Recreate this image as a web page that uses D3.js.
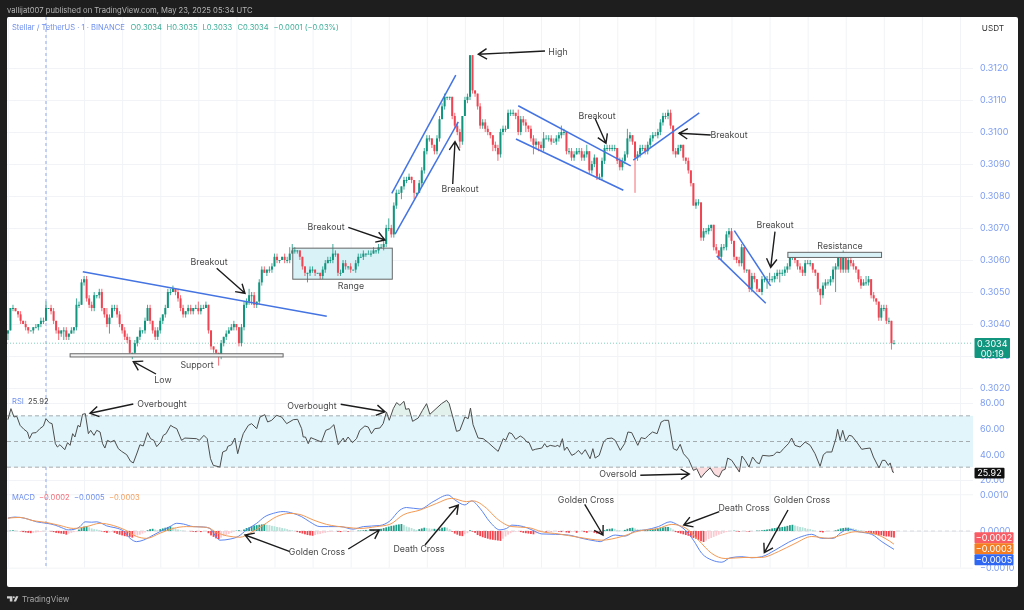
<!DOCTYPE html>
<html>
<head>
<meta charset="utf-8">
<script src="https://cdn.jsdelivr.net/npm/d3@7"></script>
<style>
    html, body { margin: 0; padding: 0; background: #1e1e1e; }
    /* the source picture is a soft upscaled screenshot */
    svg { display: block; filter: blur(0.35px); }
    text { font-family: Inter, "Noto Sans", sans-serif; }
    .domain { display: none; }
    .grid line { stroke: #f1f3f6; stroke-width: 1; }
    .scale_axis text { fill: #7c9cf2; font-size: 9px; }
    .note { fill: #4a4a4a; font-size: 8.8px; text-anchor: middle; }
    .tag { fill: #ffffff; font-size: 9px; text-anchor: middle; }
</style>
</head>
<body>
<svg id="chart" width="1024" height="610"></svg>
<script>
// one candle per minute, first one at 23:45. close in USDT
var closes = [
    0.3038,0.3045,0.3045,0.3044,0.3043,0.3041,0.3040,0.3039,0.3038,0.3038,
    0.3039,0.3039,0.3040,0.3041,0.3041,0.3045,0.3045,0.3044,0.3041,0.3038,
    0.3037,0.3038,0.3038,0.3036,0.3037,0.3038,0.3039,0.3046,0.3046,0.3053,
    0.3054,0.3048,0.3046,0.3045,0.3049,0.3049,0.3050,0.3045,0.3043,0.3040,
    0.3042,0.3045,0.3045,0.3043,0.3040,0.3038,0.3036,0.3035,0.3031,0.3031,
    0.3034,0.3036,0.3038,0.3038,0.3041,0.3045,0.3041,0.3038,0.3036,0.3038,
    0.3041,0.3043,0.3045,0.3050,0.3050,0.3051,0.3050,0.3048,0.3045,0.3043,
    0.3044,0.3045,0.3044,0.3045,0.3045,0.3044,0.3045,0.3045,0.3046,0.3038,
    0.3033,0.3032,0.3031,0.3030,0.3034,0.3036,0.3037,0.3038,0.3039,0.3040,
    0.3039,0.3034,0.3039,0.3046,0.3047,0.3049,0.3049,0.3046,0.3047,0.3053,
    0.3057,0.3056,0.3057,0.3057,0.3058,0.3061,0.3060,0.3060,0.3061,0.3060,
    0.3060,0.3062,0.3063,0.3063,0.3063,0.3061,0.3058,0.3056,0.3056,0.3057,
    0.3057,0.3056,0.3056,0.3055,0.3057,0.3059,0.3060,0.3060,0.3062,0.3062,
    0.3056,0.3056,0.3059,0.3058,0.3058,0.3057,0.3057,0.3059,0.3061,0.3061,
    0.3062,0.3062,0.3062,0.3062,0.3063,0.3063,0.3064,0.3064,0.3065,0.3070,
    0.3070,0.3068,0.3077,0.3081,0.3081,0.3083,0.3085,0.3085,0.3086,0.3085,
    0.3081,0.3081,0.3084,0.3088,0.3094,0.3098,0.3098,0.3096,0.3094,0.3098,
    0.3104,0.3108,0.3111,0.3111,0.3111,0.3105,0.3102,0.3100,0.3097,0.3105,
    0.3110,0.3111,0.3124,0.3113,0.3112,0.3108,0.3102,0.3103,0.3101,0.3100,
    0.3099,0.3096,0.3095,0.3093,0.3100,0.3101,0.3101,0.3106,0.3106,0.3106,
    0.3105,0.3100,0.3104,0.3103,0.3102,0.3101,0.3098,0.3096,0.3097,0.3096,
    0.3095,0.3098,0.3098,0.3098,0.3097,0.3097,0.3098,0.3099,0.3100,0.3100,
    0.3094,0.3094,0.3092,0.3093,0.3094,0.3094,0.3092,0.3093,0.3094,0.3088,
    0.3090,0.3092,0.3086,0.3086,0.3091,0.3095,0.3095,0.3095,0.3095,0.3095,
    0.3091,0.3089,0.3091,0.3093,0.3098,0.3099,0.3097,0.3092,0.3093,0.3095,
    0.3095,0.3094,0.3096,0.3098,0.3099,0.3099,0.3100,0.3103,0.3105,0.3105,
    0.3106,0.3102,0.3094,0.3093,0.3095,0.3096,0.3092,0.3091,0.3088,0.3084,
    0.3077,0.3078,0.3078,0.3067,0.3069,0.3069,0.3070,0.3071,0.3064,0.3063,
    0.3061,0.3064,0.3064,0.3068,0.3069,0.3066,0.3061,0.3060,0.3059,0.3064,
    0.3057,0.3057,0.3051,0.3055,0.3054,0.3051,0.3050,0.3054,0.3054,0.3054,
    0.3054,0.3054,0.3055,0.3056,0.3056,0.3056,0.3057,0.3058,0.3061,0.3061,
    0.3060,0.3058,0.3057,0.3056,0.3059,0.3059,0.3059,0.3057,0.3056,0.3051,
    0.3049,0.3052,0.3053,0.3053,0.3054,0.3057,0.3058,0.3061,0.3057,0.3062,
    0.3057,0.3060,0.3059,0.3058,0.3057,0.3054,0.3052,0.3053,0.3053,0.3054,
    0.3049,0.3048,0.3047,0.3042,0.3045,0.3045,0.3041,0.3041,0.3034,0.3034
];

// wick length above and below the body, in 0.0001 steps
var upper_wicks = [
    0,0,1,0,0,1,0,1,0,0, 0,1,0,1,1,2,0,1,1,0, 1,0,1,1,0,1,0,2,1,1, 1,1,1,1,1,0,1,1,0,2,
    1,1,1,1,1,0,1,1,1,0, 1,0,1,0,1,1,1,0,1,1, 1,0,1,1,1,1,0,1,1,1, 0,1,1,0,1,2,1,1,1,0,
    0,0,0,0,1,0,1,1,1,1, 0,0,1,1,1,2,1,1,0,1, 1,1,0,1,1,1,1,0,0,1, 1,2,2,1,0,0,0,0,0,1,
    1,0,0,0,1,1,1,1,3,1, 0,1,1,1,0,1,0,1,1,1, 1,0,1,1,1,0,1,1,1,1, 3,1,1,1,1,0,1,1,1,0,
    0,0,1,1,1,1,1,0,0,1, 1,1,1,0,0,0,1,1,1,0, 1,1,0,0,0,0,1,1,1,1, 0,0,1,1,1,1,1,1,1,1,
    0,2,1,1,1,0,1,1,1,0, 1,2,1,1,1,1,1,1,2,1, 0,1,1,1,1,1,1,1,2,0, 1,1,0,1,1,1,1,1,1,1,
    0,1,1,1,3,1,0,0,1,1, 1,1,1,1,1,1,1,1,1,1, 1,1,0,1,1,0,0,0,1,0, 0,1,1,0,1,1,1,0,0,1,
    0,1,1,1,1,1,0,0,1,1, 0,0,0,1,1,0,0,1,1,1, 2,1,1,1,1,1,1,1,1,0, 0,0,1,1,1,1,1,0,0,0,
    0,1,1,1,1,1,1,1,1,1, 0,1,1,1,0,0,1,1,2,1, 0,1,0,0,1,1,1,1,0,1
];
var lower_wicks = [
    2,0,1,0,1,1,0,1,1,0, 1,0,1,1,1,0,0,1,1,1, 2,1,3,1,1,0,1,1,1,0, 1,1,1,1,1,1,1,1,1,1,
    3,0,1,1,1,1,1,1,1,2, 1,1,1,1,1,0,1,1,1,1, 1,1,1,0,1,0,1,1,1,1, 1,1,1,1,0,1,1,0,0,1,
    1,1,1,3,1,1,1,0,0,1, 1,1,1,1,1,1,3,1,1,1, 1,0,1,1,1,0,1,1,0,1, 1,1,0,1,1,1,1,1,3,1,
    1,1,0,1,1,1,0,1,1,1, 1,1,0,1,1,1,0,1,1,0, 1,1,0,1,0,1,1,0,1,1, 1,1,1,1,0,2,1,1,0,1,
    2,1,0,1,1,1,1,1,1,1, 1,0,1,1,1,1,1,1,2,1, 0,1,1,1,1,1,1,1,1,1, 1,2,1,2,1,1,1,0,1,1,
    1,1,1,1,2,1,1,3,1,2, 1,1,0,1,1,0,1,1,1,1, 1,1,1,1,0,1,1,1,1,1, 1,1,1,1,1,1,1,1,1,1,
    1,1,1,1,1,1,1,11,1,1, 1,1,1,1,1,0,1,1,1,1, 1,1,1,1,0,1,1,1,1,1, 0,1,1,1,1,1,1,1,1,1,
    1,1,1,1,1,1,1,1,1,1, 1,1,1,1,1,1,0,1,1,3, 1,1,1,1,3,1,1,1,1,1, 1,1,1,1,1,0,1,1,1,1,
    3,1,1,1,1,1,7,1,1,1, 1,1,1,1,1,1,1,0,1,1, 1,1,1,1,1,1,1,1,2,0
];

// RSI line, read vertex by vertex (candle number, value)
var rsi_bars = [
    0,1.2,2.4,3.5,4.8,6.3,7.7,8.5,9.6,11.1,12.6,14,15,16.3,17.4,18.7,19.5,20.5,22.4,23.5,24.5,25.5,26.4,27.6,28.4,29.4,30.5,31.7,32.6,33.9,
    35,36.3,37.3,38.2,39.2,40.5,41.9,43.5,44.8,46.8,48.3,49.4,51,52,53.3,55,56.2,57.5,58.6,60.2,61.2,62.3,64.1,65.1,66.5,68.4,69.7,74.3,75.4,77.2,
    78.5,79.8,80.9,83.5,84.6,86.1,86.6,88.1,89.4,90.5,91.7,92.7,94.7,96,98,99.3,101.2,102.3,103.9,105.8,107.8,109.8,112.4,114.1,115.7,116.3,117.2,118.3,119.3,120.9,
    123.5,125.2,126.8,128.4,130.1,132.1,132.7,134,135.7,137.3,138.6,140.6,141.9,143.2,144.5,146.5,147.8,149.1,150.2,151.8,153.1,154.4,156,156.7,158,159.4,161.6,163.3,164.9,166.2,
    170.8,172.8,173.8,175.4,176.7,178,180,181.3,182.2,183.2,185.2,187.2,189.2,191.1,193.1,195.1,196.1,197.4,198.5,200,201.8,203.1,204.4,205.3,206.6,207.7,210.3,211.4,212.3,213.6,
    215.6,216.6,217.3,218.4,219.2,220.2,222.1,223.4,224.7,226,227.4,229.3,230.4,231.3,232.9,234.6,235.9,237.9,239.2,241.2,242.9,244.2,245.7,248.1,249.4,251,252.3,253.9,255.7,257.3,
    258.6,260.2,262.1,263.5,264.8,266.1,268.1,270,271.3,273,274.6,276.6,278.3,280.1,281.4,282.5,283.5,285.1,288.1,289.1,290.4,291.9,293.3,295,296,297.2,299.8,301.5,302.8,304.1,
    305.5,307.4,308.7,310,312,314,316,317.9,319.9,321.2,322.5,324.5,326.1,326.8,327.8,328.8,330,331.3,332.4,334.3,336.3,337.6,339.6,340.9,343.1,344.4,345.5,346.8,347.5,348.5,349
];
var rsi_values = [
    67,75.6,69.1,69.6,62.6,59.5,57.4,52.2,56.6,56.9,60,62.1,67.8,64.7,63.9,48.3,45.7,47.5,43.6,49.1,47,56.1,53.5,62.6,61.3,71.2,71.7,56.1,58.7,54.8,
    58.7,57.4,48.3,44.9,50.9,49.6,50.9,44.4,42.3,39.7,34.6,33.3,41.8,47.5,46.5,56.9,52.2,50.9,46,49.6,54.8,56.1,62.6,61.3,60,50.9,52.7,52.2,50.9,54.8,
    52.2,36.6,31.4,30.1,41.8,43.1,46.2,47.5,52.7,40.5,49.6,56.1,62.6,63.9,60,69.1,70.9,65.2,66.5,70.4,69.1,63.9,67,67.3,60,53.5,53.5,48.3,53,51.7,
    49.6,58.7,60,63.1,47.5,52.7,49.6,53.5,49.1,52.2,58.7,62.1,61.3,56.1,60,60.5,63.9,73,66.5,75.6,80.3,78.2,81.3,75.1,75.6,65.7,68.3,74.3,79.5,71.2,
    79.5,82.1,79.5,67.8,57.9,58.7,69.1,67.8,76.1,63.1,52.7,52.2,49.1,45.7,42.3,52.2,50.9,56.9,56.1,51.7,54.3,52.7,49.6,49.1,43.1,43.9,44.9,48.3,45.7,47,
    46.2,47,45.7,52.2,43.1,45.7,39.2,40.5,43.1,40,43.6,36.6,44.4,37.1,39.2,49.6,52.2,52.7,50.9,43.1,48.3,57.4,56.9,47,53,52.2,54.8,57.4,56.1,65.2,
    66.5,66.5,44.4,43.1,47.8,40.5,36.1,27.5,28.8,21.8,25.7,29.4,24.2,22.3,27.5,28.3,37.1,35.3,26.2,38.7,35.3,30.1,37.9,33.5,32.7,39.2,38.7,39.2,41.8,41.3,
    44.4,48.3,52.7,47,45.7,49.6,47,40.5,30.7,39.7,41.8,41.8,52.2,59.5,50.9,58.7,50.1,54.8,54.3,49.6,43.9,44.4,44.9,37.9,29.4,35.3,35.3,31.4,33.3,26.2,25.92
];

// MACD and signal lines, vertices in 0.0001 units
var macd_bars = [
    0,2.8,4.8,8.1,11.3,15.3,18.6,21.2,23.8,26.4,28.4,30.4,33,35,36.9,38.9,42.2,45.5,48.1,50.7,53.3,57.3,61.2,63.8,66.5,69.1,73,77,79.6,81.5,
    83.5,87.5,90.7,94,98,101.2,104.5,108.4,112.4,115.7,118.9,122.9,126.2,130.8,136,140,146.5,150.4,154.4,157,162.3,167.5,173.4,176,180,182.6,185.9,189.8,193.8,196.4,
    198.5,203.1,206.4,210.3,215.6,220.8,226.1,231.3,233.3,235.9,239.2,243.1,247.1,251,256.2,260.8,263.5,266.7,270,273.3,277.2,281.2,284.5,289.1,293,296.9,302.2,307.4,312.7,316.6,
    320.5,325.1,327.8,331.1,335,340.2,344.2,349
];
var macd_values = [
    3.5,3.8,3.7,3.2,2.5,2.1,1.6,0.9,0.3,0.5,1.2,2.5,2.4,2.5,2.1,1.4,0.9,0,-2,-2.9,-2.5,-1.1,0.3,1.2,2.1,1.9,1.2,1.1,0.7,-1.1,
    -2.5,-2.2,-1.5,0.3,2.1,3.9,4.8,5.3,4.8,3.9,2.5,1.2,1.2,1.2,0.5,1.2,1.5,2.7,5.7,6.4,6,8,9.8,8.5,7.1,8.2,6.2,2.5,0.3,0.7,
    1.6,1.2,0.3,-0.8,-0.9,-1.1,-2,-2.7,-2.9,-2,-1.1,-1.4,0,0.3,1.2,2.5,1.8,0.3,-2.5,-6.1,-7.9,-8.5,-7.3,-7,-7.3,-7,-5.2,-3.1,-1.5,-0.9,
    -2,-2,-0.6,0.5,-0.2,-0.9,-2.9,-5
];
var signal_bars = [
    0,4.8,10,15.3,20.5,25.8,31,36.3,41.5,46.1,50.7,54.6,59.9,65.1,70.4,78.3,82.2,86.1,91.4,95.3,100.6,105.8,111.1,115,120.3,125.5,133.4,138.6,145.2,150.4,
    155.7,162.3,168.8,174.7,180.6,183.2,188.5,192.4,198.5,205.1,210.3,216.9,224.7,233.9,241.8,248.4,256.2,261.5,266.7,272,277.2,282.5,290.4,296.9,303.5,310,316.6,323.2,328.4,333.7,
    340.2,345.5,349
];
var signal_values = [
    3.5,3.7,2.8,2.3,1.5,0.7,1.2,2.1,1.5,0.3,-1.5,-2,-0.6,0.7,1.2,1,-0.4,-1.3,-1.7,-0.6,1.6,3.9,4.8,4.5,3,1.8,1,0.7,1.2,1.8,
    4.4,5.7,7.5,8.9,8,8.2,6.2,3.5,1.2,0.9,-0.2,-0.8,-1.7,-2.5,-1.5,0,0.7,1.8,0.9,-2.5,-6.1,-7.5,-7.2,-7.2,-5.6,-3.4,-1.5,-2,-1.1,-0.2,
    -0.6,-2,-3.6
];

// histogram, one bar per candle, 0.0001 units
var hist_values = [
    0,0.1,0.2,0.1,0,-0.1,-0.3,-0.4,-0.5,-0.6, -0.5,-0.4,-0.3,-0.2,-0.1,0,0,-0.1,-0.3,-0.5,
    -0.6,-0.7,-0.8,-1,-0.7,-0.5,-0.3,-0.1,0.4,0.8, 1.2,1.3,1,0.7,0.5,0.4,0.2,-0.1,-0.3,-0.5,
    -0.4,-0.2,-0.5,-0.8,-1,-1.2,-1.4,-1.5,-1.6,-1.8, -1.5,-1.2,-1,-0.7,-0.4,0.2,0.5,0.6,0.4,0.2,
    0.5,0.7,0.9,1.1,1.3,1,0.7,0.4,0.2,0.1, 0,0,-0.1,-0.2,-0.3,-0.2,-0.3,-0.2,-0.1,-0.6,
    -1.2,-1.6,-2,-2.2,-1.8,-1.4,-1.1,-0.8,-0.5,-0.2, 0.1,0.2,0.1,0.4,0.8,1,1.3,1.5,1.6,1.7,
    1.8,1.9,1.7,1.6,1.4,1.3,1.1,1,0.8,0.7, 0.5,0.3,0.2,0,-0.3,-0.5,-0.7,-0.9,-1.1,-1.2,
    -1.3,-1.1,-0.9,-0.8,-0.6,-0.5,-0.3,-0.2,-0.1,0, -0.2,-0.3,-0.2,-0.1,-0.2,-0.1,0,0,0.1,0.1,
    0.2,0.3,0.2,0.2,0.3,0.2,0.4,0.6,0.8,1, 1.2,1.4,1.5,1.7,1.8,1.9,1.6,1.2,1,0.8,
    0.5,0.3,0.5,0.7,0.9,0.8,0.7,0.6,0.6,0.5, 0.6,0.9,1,0.9,0.5,-0.2,-0.7,-1,-1.3,-1.4,
    -0.9,-0.6,0.2,-0.2,-0.5,-1.1,-1.4,-1.7,-1.9,-2.1, -2.3,-2.4,-2.5,-2.6,-2.7,-2.1,-1.5,-1,-0.6,-0.3,
    -0.2,-0.1,-0.3,-0.5,-0.6,-0.7,-0.8,-0.9,-0.6,-0.4, -0.2,-0.1,-0.2,-0.1,-0.1,0,0,-0.2,-0.3,-0.1,
    -0.4,-0.5,-0.3,-0.2,-0.5,-0.2,-0.1,-0.3,-0.5,-0.3, -0.2,-0.5,-0.7,-0.8,-0.3,0.2,0.5,0.6,0.7,0.6,
    0.3,0.2,0.1,0.3,0.6,0.8,0.9,0.7,0.5,0.4, 0.3,0.3,0.3,0.4,0.5,0.6,0.7,0.9,1,1.1,
    1.1,0.8,0.4,-0.3,-0.5,-0.7,-0.9,-1.1,-1.3,-1.6, -1.9,-2.1,-2.4,-2.8,-3,-2.6,-2.2,-1.9,-1.6,-1.3,
    -1,-0.8,-0.5,-0.3,-0.1,0,0.1,-0.1,-0.2,-0.1, 0,-0.1,-0.2,-0.1,0,0.1,0.1,0.2,0.3,0.4,
    0.5,0.7,0.8,0.9,1,1.1,1.2,1.4,1.6,1.7, 1.5,1.3,1.1,1,0.8,0.6,0.5,0.3,0.1,0,
    -0.3,-0.4,-0.2,-0.1,0,0,0.2,0.4,0.7,0.8, 0.9,0.9,0.8,0.7,0.5,0.3,0.2,0,-0.2,-0.4,
    -0.7,-0.9,-1,-1.2,-1.2,-1.4,-1.5,-1.5,-1.7,-1.8
];

var time_labels = ["23:45","23","00:15","00:30","00:45","01:00","01:15","01:30","01:45","02:00","02:15","02:30","02:45",
    "03:00","03:15","03:30","03:45","04:00","04:15","04:30","04:45","05:00","05:15","05:30","05:45","06:00"];
var time_bars = time_labels.map(function (d, i) { return i * 15; });
var price_ticks = [0.3020,0.3030,0.3040,0.3050,0.3060,0.3070,0.3080,0.3090,0.3100,0.3110,0.3120];
var rsi_ticks = [20,40,60,80];
var macd_ticks = [-0.0010,0,0.0010];

var panel = { left: 7, right: 1018, top: 17, bottom: 587 };
var plot_right = 973;

var x = d3.scaleLinear().domain([0, 375]).range([7.9, 960]);
var y_price = d3.scaleLinear().domain([0.3020, 0.3120]).range([388, 68]);
var y_rsi = d3.scaleLinear().domain([20, 80]).range([480, 403]);
var y_macd = d3.scaleLinear().domain([-0.0010, 0.0010]).range([567.7, 494.3]);

var fmt_price = d3.format(".4f");
var fmt_rsi = d3.format(".2f");

var svg = d3.select("#chart");
var defs = svg.append("defs");

defs.append("clipPath").attr("id", "plot_clip").append("rect")
    .attr("x", panel.left).attr("y", panel.top)
    .attr("width", plot_right - panel.left).attr("height", panel.bottom - panel.top);
defs.append("clipPath").attr("id", "panel_clip").append("rect")
    .attr("x", panel.left).attr("y", panel.top)
    .attr("width", panel.right - panel.left).attr("height", panel.bottom - panel.top);
defs.append("clipPath").attr("id", "rsi_high").append("rect")
    .attr("x", panel.left).attr("y", panel.top)
    .attr("width", plot_right - panel.left).attr("height", y_rsi(70) - panel.top);
defs.append("clipPath").attr("id", "rsi_low").append("rect")
    .attr("x", panel.left).attr("y", y_rsi(30))
    .attr("width", plot_right - panel.left).attr("height", 40);

svg.append("rect").attr("width", 1024).attr("height", 610).attr("fill", "#1e1e1e");
svg.append("rect")
    .attr("x", panel.left).attr("y", panel.top)
    .attr("width", panel.right - panel.left).attr("height", panel.bottom - panel.top)
    .attr("rx", 2).attr("fill", "#ffffff");

var plot = svg.append("g").attr("clip-path", "url(#plot_clip)");

// grid lines, same trick for all three panes: long ticks with no labels
function add_y_grid(scale, ticks) {
    plot.append("g")
        .attr("class", "grid")
        .attr("transform", "translate(" + plot_right + ",0)")
        .call(d3.axisLeft(scale).tickValues(ticks).tickSize(plot_right - panel.left).tickFormat(""));
}
add_y_grid(y_price, price_ticks);
add_y_grid(y_rsi, rsi_ticks);
add_y_grid(y_macd, macd_ticks);

plot.append("g")
    .attr("class", "grid")
    .attr("transform", "translate(0," + y_macd(-0.0010) + ")")
    .call(d3.axisTop(x).tickValues(time_bars).tickSize(y_macd(-0.0010) - panel.top).tickFormat(""));

// session break at midnight
plot.append("line")
    .attr("x1", x(15)).attr("x2", x(15))
    .attr("y1", panel.top).attr("y2", y_macd(-0.0010))
    .attr("stroke", "#8fa8f0").attr("stroke-width", 1).attr("stroke-dasharray", "3,3");

// last price line
plot.append("line")
    .attr("x1", panel.left).attr("x2", plot_right)
    .attr("y1", y_price(0.3034)).attr("y2", y_price(0.3034))
    .attr("stroke", "#7fd0bd").attr("stroke-width", 1).attr("stroke-dasharray", "1,2");

// candles
var candles = closes.map(function (c, i) {
    var o = i === 0 ? 0.3037 : closes[i - 1];
    return {
        i: i,
        o: o,
        c: c,
        h: Math.max(o, c) + upper_wicks[i] * 0.0001,
        l: Math.min(o, c) - lower_wicks[i] * 0.0001
    };
});

function candle_color(d) {
    return d.c >= d.o ? "#12957f" : "#f04452";
}

var range_box = { from: 112.2, to: 151.4, top: 0.30637, bottom: 0.3054 };

plot.append("rect")
    .attr("x", x(range_box.from)).attr("width", x(range_box.to) - x(range_box.from))
    .attr("y", y_price(range_box.top)).attr("height", y_price(range_box.bottom) - y_price(range_box.top))
    .attr("fill", "#d8f2f8");

var candle_g = plot.append("g");
candle_g.selectAll("line")
    .data(candles)
    .enter().append("line")
    .attr("x1", function (d) { return x(d.i); })
    .attr("x2", function (d) { return x(d.i); })
    .attr("y1", function (d) { return y_price(d.h); })
    .attr("y2", function (d) { return y_price(d.l); })
    .attr("stroke", candle_color)
    .attr("stroke-width", 0.8);
candle_g.selectAll("rect")
    .data(candles)
    .enter().append("rect")
    .attr("x", function (d) { return x(d.i) - 1; })
    .attr("width", 2)
    .attr("y", function (d) { return y_price(Math.max(d.o, d.c)); })
    .attr("height", function (d) { return Math.max(1, Math.abs(y_price(d.o) - y_price(d.c))); })
    .attr("fill", candle_color);

// drawings on the price pane
var box_list = [range_box,
    { from: 24.5, to: 108.4, top: 0.30307, bottom: 0.30297, fill: "#f3f3f3" },
    { from: 307.2, to: 344.1, top: 0.30624, bottom: 0.30608, fill: "#d8f2f8" }];
plot.append("g").selectAll("rect")
    .data(box_list)
    .enter().append("rect")
    .attr("x", function (d) { return x(d.from); })
    .attr("width", function (d) { return x(d.to) - x(d.from); })
    .attr("y", function (d) { return y_price(d.top); })
    .attr("height", function (d) { return y_price(d.bottom) - y_price(d.top); })
    .attr("fill", function (d) { return d.fill || "none"; })
    .attr("stroke", "#666666")
    .attr("stroke-width", 1);

var trend_lines = [
    [29.5, 0.30563, 125.6, 0.30424],
    [151.2, 0.30808, 176.4, 0.31178],
    [152.5, 0.30681, 177.4, 0.31032],
    [201, 0.31082, 245.3, 0.30894],
    [200.1, 0.30978, 242.4, 0.30818],
    [246.3, 0.30912, 272.3, 0.3106],
    [286.1, 0.30692, 300.4, 0.30519],
    [279.2, 0.30613, 298.5, 0.30465]
];
plot.append("g").selectAll("line")
    .data(trend_lines)
    .enter().append("line")
    .attr("x1", function (d) { return x(d[0]); })
    .attr("y1", function (d) { return y_price(d[1]); })
    .attr("x2", function (d) { return x(d[2]); })
    .attr("y2", function (d) { return y_price(d[3]); })
    .attr("stroke", "#4473e2")
    .attr("stroke-width", 1.5);

// RSI pane
plot.append("rect")
    .attr("x", panel.left).attr("width", plot_right - panel.left)
    .attr("y", y_rsi(70)).attr("height", y_rsi(30) - y_rsi(70))
    .attr("fill", "#e2f5fa");

var rsi_points = rsi_bars.map(function (b, i) { return { b: b, v: rsi_values[i] }; });

plot.append("path")
    .datum(rsi_points)
    .attr("clip-path", "url(#rsi_high)")
    .attr("fill", "#e3f1ec")
    .attr("d", d3.area()
        .x(function (d) { return x(d.b); })
        .y0(y_rsi(70))
        .y1(function (d) { return y_rsi(d.v); }));
plot.append("path")
    .datum(rsi_points)
    .attr("clip-path", "url(#rsi_low)")
    .attr("fill", "#fbdcdf")
    .attr("d", d3.area()
        .x(function (d) { return x(d.b); })
        .y0(y_rsi(30))
        .y1(function (d) { return y_rsi(d.v); }));

plot.append("g").selectAll("line")
    .data([70, 50, 30])
    .enter().append("line")
    .attr("x1", panel.left).attr("x2", plot_right)
    .attr("y1", function (d) { return y_rsi(d); })
    .attr("y2", function (d) { return y_rsi(d); })
    .attr("stroke", "#a4acb0")
    .attr("stroke-width", 1)
    .attr("stroke-dasharray", "4,3");

plot.append("path")
    .datum(rsi_points)
    .attr("fill", "none")
    .attr("stroke", "#4d4d4d")
    .attr("stroke-width", 1)
    .attr("d", d3.line()
        .x(function (d) { return x(d.b); })
        .y(function (d) { return y_rsi(d.v); }));

// MACD pane
plot.append("line")
    .attr("x1", panel.left).attr("x2", plot_right)
    .attr("y1", y_macd(0)).attr("y2", y_macd(0))
    .attr("stroke", "#d8dadd").attr("stroke-dasharray", "4,3");

// dark bar when the histogram grows away from zero, light when it shrinks back
function hist_color(v, i) {
    var prev = i === 0 ? 0 : hist_values[i - 1];
    if (v >= 0) return v >= prev ? "#1f9e89" : "#b5e2d8";
    return v <= prev ? "#f4454f" : "#fbc9cf";
}

plot.append("g").selectAll("rect")
    .data(hist_values)
    .enter().append("rect")
    .attr("x", function (d, i) { return x(i) - 0.9; })
    .attr("width", 1.8)
    .attr("y", function (d) { return Math.min(y_macd(0), y_macd(d * 0.0001)); })
    .attr("height", function (d) { return Math.abs(y_macd(0) - y_macd(d * 0.0001)); })
    .attr("fill", hist_color);

function add_macd_line(bars, values, color) {
    plot.append("path")
        .datum(bars.map(function (b, i) { return { b: b, v: values[i] * 0.0001 }; }))
        .attr("fill", "none")
        .attr("stroke", color)
        .attr("stroke-width", 1)
        .attr("d", d3.line()
            .curve(d3.curveMonotoneX)
            .x(function (d) { return x(d.b); })
            .y(function (d) { return y_macd(d.v); }));
}
add_macd_line(macd_bars, macd_values, "#5c85f0");
add_macd_line(signal_bars, signal_values, "#f39a55");

// scales on the right
function add_scale(scale, ticks, format) {
    svg.append("g")
        .attr("class", "scale_axis")
        .attr("transform", "translate(" + 974 + ",0)")
        .call(d3.axisRight(scale).tickValues(ticks).tickSize(0).tickPadding(6).tickFormat(format));
}
add_scale(y_price, price_ticks, fmt_price);
add_scale(y_rsi, rsi_ticks, fmt_rsi);
add_scale(y_macd, macd_ticks, fmt_price);

// time scale
var time_axis = svg.append("g")
    .attr("class", "scale_axis")
    .attr("clip-path", "url(#panel_clip)")
    .attr("transform", "translate(0," + 571 + ")")
    .call(d3.axisBottom(x).tickValues(time_bars).tickSize(0).tickPadding(3)
        .tickFormat(function (d, i) { return time_labels[i]; }));
time_axis.selectAll("text")
    .style("font-weight", function (d, i) { return time_labels[i] === "23" ? 700 : 400; });

// value tags on the right scale
function add_tag(top, h, width, fill, lines) {
    svg.append("rect")
        .attr("x", 974.5).attr("y", top).attr("width", width).attr("height", h)
        .attr("rx", 1).attr("fill", fill);
    lines.forEach(function (t, i) {
        svg.append("text")
            .attr("class", "tag")
            .attr("x", 974.5 + width / 2)
            .attr("y", top + 8.5 + i * 10)
            .text(t);
    });
}
add_tag(338, 20, 35.5, "#12957f", [fmt_price(0.3034), "00:19"]);
add_tag(467.7, 10.8, 30, "#111111", [fmt_rsi(25.92)]);
add_tag(532.3, 11, 39, "#fa5c66", [fmt_price(-0.0002)]);
add_tag(543.3, 11, 39, "#f57c1f", [fmt_price(-0.0003)]);
add_tag(554.3, 11, 39, "#2f66f2", [fmt_price(-0.0005)]);

// hand drawn callouts. these are pictures on top of the chart, screen coords are fine here
var note_labels = [
    ["High", 558, 55], ["Breakout", 209, 265], ["Support", 197, 368], ["Low", 163, 383],
    ["Range", 351, 289], ["Breakout", 326, 230], ["Breakout", 460, 192], ["Breakout", 597, 119],
    ["Breakout", 729, 138], ["Breakout", 775, 228], ["Resistance", 840, 249],
    ["Overbought", 162, 407], ["Overbought", 312, 409], ["Oversold", 618, 477],
    ["Golden Cross", 317, 555], ["Death Cross", 419, 552], ["Golden Cross", 586, 503],
    ["Death Cross", 744, 511], ["Golden Cross", 802, 503]
];
var note_arrows = [
    [545, 51, 478.3, 54.3], [216.7, 268.3, 245, 293.3], [156, 374, 133.3, 361.7],
    [348.3, 227.3, 385, 240], [452.7, 184, 455, 141.7], [595, 118.3, 606, 143.3],
    [710.7, 135, 679, 133.3], [775, 231.7, 770.7, 267.3],
    [133.3, 404, 90, 413.3], [340.7, 404.3, 385, 411.7], [640.3, 475.3, 689.3, 474],
    [290, 551.7, 245, 535], [348.3, 549, 379.3, 530], [425, 545, 458.3, 505],
    [584.7, 504.3, 603, 535], [719.3, 511.7, 683.7, 525], [788, 510, 764.3, 552.7]
];

function arrow_path(d) {
    var angle = Math.atan2(d[3] - d[1], d[2] - d[0]);
    var head = 10, spread = 0.55;
    var a = [d[2] - head * Math.cos(angle - spread), d[3] - head * Math.sin(angle - spread)];
    var b = [d[2] - head * Math.cos(angle + spread), d[3] - head * Math.sin(angle + spread)];
    return "M" + d[0] + "," + d[1] + "L" + d[2] + "," + d[3] +
        "M" + a[0] + "," + a[1] + "L" + d[2] + "," + d[3] + "L" + b[0] + "," + b[1];
}

svg.append("g").selectAll("path")
    .data(note_arrows)
    .enter().append("path")
    .attr("d", arrow_path)
    .attr("fill", "none")
    .attr("stroke", "#1c1c1c")
    .attr("stroke-width", 1.4);

svg.append("g").selectAll("text")
    .data(note_labels)
    .enter().append("text")
    .attr("class", "note")
    .attr("x", function (d) { return d[1]; })
    .attr("y", function (d) { return d[2]; })
    .text(function (d) { return d[0]; });

// header, legends, footer
function add_text(t, tx, ty, size, color, anchor) {
    svg.append("text")
        .attr("x", tx).attr("y", ty)
        .attr("font-size", size)
        .attr("fill", color)
        .attr("text-anchor", anchor || "start")
        .text(t);
}
add_text("vallijat007 published on TradingView.com, May 23, 2025 05:34 UTC", 7, 13, 7.65, "#b5b5b5");
add_text("Stellar / TetherUS · 1 · BINANCE", 12, 30, 7.6, "#6f8fee");
add_text("O0.3034", 130.5, 30, 7.6, "#3fae98");
add_text("H0.3035", 166.5, 30, 7.6, "#3fae98");
add_text("L0.3033", 202.5, 30, 7.6, "#3fae98");
add_text("C0.3034", 237.5, 30, 7.6, "#3fae98");
add_text("−0.0001 (−0.03%)", 273.5, 30, 7.6, "#3fae98");
add_text("USDT", 993, 31, 8.2, "#333333", "middle");
add_text("RSI", 12, 404, 7.6, "#6f8fee");
add_text(fmt_rsi(25.92), 28, 404, 7.6, "#444444");
add_text("MACD", 12, 500, 7.6, "#6f8fee");
add_text(fmt_price(-0.0002), 39, 500, 7.6, "#f0707a");
add_text(fmt_price(-0.0005), 74, 500, 7.6, "#6f8fee");
add_text(fmt_price(-0.0003), 109, 500, 7.6, "#f3a060");
add_text("TradingView", 22, 602, 8, "#a8a8a8");

// small logo
svg.append("path")
    .attr("d", "M7,596.2h5.4v5.4h-2.6v-3h-2.8zM13.6,601.6l2.4-5.4h2.4l-2.4,5.4z")
    .attr("fill", "#cfcfcf");
svg.append("circle").attr("cx", 13.8).attr("cy", 597.2).attr("r", 1).attr("fill", "#cfcfcf");
</script>
</body>
</html>
